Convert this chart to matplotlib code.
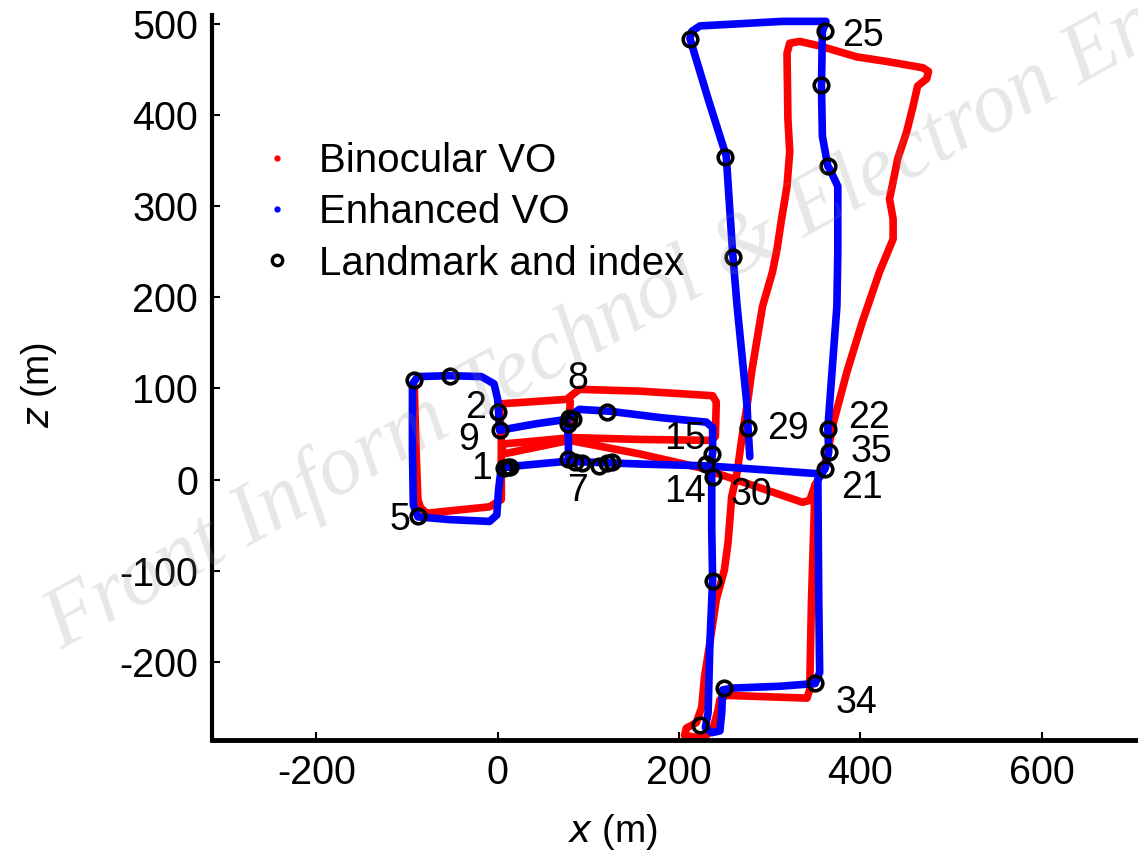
import matplotlib
matplotlib.use("Agg")
import numpy as np
import matplotlib.pyplot as plt
from matplotlib.lines import Line2D

plt.rcParams['font.family'] = ['Liberation Sans', 'DejaVu Sans']
plt.rcParams['axes.unicode_minus'] = False

# binocular VO trajectory (x, z in metres)
red_x = [-92, -90, -88, -85, -78, -9, 4, 4, 4, 2, 76, 90, 157, 237, 241, 240, 234, 157, 82, 6, 5, 6,
         79, 157, 223, 259, 286, 336, 344, 350, 358, 364, 369, 385, 402, 421, 436, 436, 432, 436,
         441, 451, 458, 463, 473, 475, 469, 429, 396, 355, 333, 322, 319, 320, 322, 319, 313, 308,
         303, 292, 286, 280, 276, 269, 264, 258, 254, 250, 241, 234, 228, 225, 219, 208, 206, 226,
         237, 243, 245, 252, 341, 344, 346, 350]
red_z = [102, 33, -22, -31, -37, -30, -22, 11, 44, 83, 88, 99, 97, 92, 85, 47, 43, 44, 46, 39, 33, 28,
         43, 28, 13, 1, -8, -25, -23, -6, 8, 30, 58, 118, 173, 228, 264, 286, 308, 327,
         352, 382, 410, 432, 440, 448, 452, 459, 464, 476, 481, 479, 468, 396, 360, 322, 286, 253,
         228, 190, 154, 118, 88, 44, 8, -19, -69, -99, -132, -179, -217, -250, -267, -273, -281, -284,
         -275, -253, -242, -237, -240, -231, -132, -6]
red_x8 = [78, 80]
red_z8 = [44, 86]

# enhanced VO trajectory
blue_x = [17, 4, 1, -1, -9, -53, -88, -93, -94, -94, -88, -53, -18, -4, 0, 1, 2, 41, 76, 83, 90, 123,
          179, 230, 237, 237, 235, 236, 236, 237, 234, 232, 229, 236, 245, 247, 248, 259, 311, 350,
          355, 354, 353, 361, 365, 364, 368, 374, 375, 375, 366, 364, 358, 357, 358, 362, 314, 223,
          214, 212, 232, 252, 259, 264, 275, 276, 278]
blue_z = [14, 13, -11, -39, -46, -44, -41, -28, 33, 105, 113, 114, 113, 105, 88, 74, 54, 61, 66, 72, 77, 75,
          68, 63, 57, 30, 15, 3, -55, -110, -179, -256, -272, -278, -276, -256, -231, -229, -227, -224,
          -212, -132, 0, 12, 30, 56, 110, 190, 250, 322, 341, 344, 377, 432, 492, 503, 503, 498,
          492, 484, 418, 355, 250, 190, 80, 57, 25]
blue_x8 = [76, 78, 78]
blue_z8 = [66, 44, 22]
blue_xb = [11, 76, 157, 230, 289, 358]
blue_zb = [14, 20, 17, 15, 11, 6]

# landmarks
lm_x = [361, 212, 357, 251, 364, 260, 276, 364, 365, 361, 236, 230, 237, 237, 250, 350, 223,
        -92, -53, 0, 2, 7, 11, 14, -88, 79, 83, 77, 121, 77, 85, 93, 112, 121, 126]
lm_z = [492, 484, 433, 354, 344, 244, 57, 56, 30, 12, 28, 17, 3, -111, -229, -223, -270,
        109, 114, 74, 54, 13, 14, 14, -40, 68, 66, 61, 74, 22, 19, 18, 15, 18, 19]

idx_text = ["8", "2", "9", "1", "5", "7", "15", "14", "30", "29", "22", "35", "21", "34"]
idx_x = [88, -24, -32, -18, -108, 88, 207, 206, 280, 320, 409, 412, 402, 396]
idx_z = [110, 79, 43, 11, -44, -13, 44, -14, -17, 56, 68, 30, -9, -245]

fig = plt.figure(figsize=(11.38, 8.59), dpi=100)
ax = fig.add_axes([212 / 1138, 119 / 859, 926 / 1138, 725 / 859])

ax.plot(red_x, red_z, color='#ff0000', lw=5.5, solid_capstyle='round', solid_joinstyle='round')
ax.plot(red_x8, red_z8, color='#ff0000', lw=5.5, solid_capstyle='round')
ax.plot(blue_x, blue_z, color='#0000ff', lw=5.5, solid_capstyle='round', solid_joinstyle='round')
ax.plot(blue_x8, blue_z8, color='#0000ff', lw=5.5, solid_capstyle='round')
ax.plot(blue_xb, blue_zb, color='#0000ff', lw=5.5, solid_capstyle='round')
ax.plot(lm_x, lm_z, 'o', mfc='none', mec='black', mew=2.6, ms=10.5)

ax.text(380, 487, "25", fontsize=27, ha='left', va='center')
for t, x, z in zip(idx_text, idx_x, idx_z):
    ax.text(x, z, t, fontsize=27, ha='center', va='center')

ax.set_xlim(-315, 706)
ax.set_ylim(-286, 510)
ax.set_xticks([-200, 0, 200, 400, 600])
ax.set_yticks([-200, -100, 0, 100, 200, 300, 400, 500])
ax.tick_params(direction='in', length=6, width=1.5, labelsize=28.5, pad=10)
for s in ['top', 'right']:
    ax.spines[s].set_visible(False)
ax.spines['left'].set_linewidth(3)
ax.spines['bottom'].set_linewidth(3.5)

ax.set_xlabel("$x$ (m)", fontsize=27)
ax.xaxis.set_label_coords(0.433, -0.1)
ax.set_ylabel("$z$ (m)", fontsize=27)
ax.yaxis.set_label_coords(-0.165, 0.49)

handles = [
    Line2D([], [], color='#ff0000', marker='o', ls='none', ms=3.5),
    Line2D([], [], color='#0000ff', marker='o', ls='none', ms=3.5),
    Line2D([], [], marker='o', mfc='none', mec='black', mew=2.4, ms=7.5, ls='none'),
]
ax.legend(handles, ["Binocular VO", "Enhanced VO", "Landmark and index"], loc='upper left',
          bbox_to_anchor=(257 / 1138, 1 - 142 / 859), bbox_transform=fig.transFigure,
          frameon=False, fontsize=29, handlelength=1, handletextpad=0.55, labelspacing=0.33,
          borderpad=0, borderaxespad=0)

fig.text(0.054, 0.243, "Front Inform Technol & Electron Eng", rotation=29, rotation_mode='anchor',
         fontsize=62, family='Liberation Serif', style='italic', color='#888888', alpha=0.2,
         ha='left', va='baseline')

fig.savefig("out.png", dpi=100)
